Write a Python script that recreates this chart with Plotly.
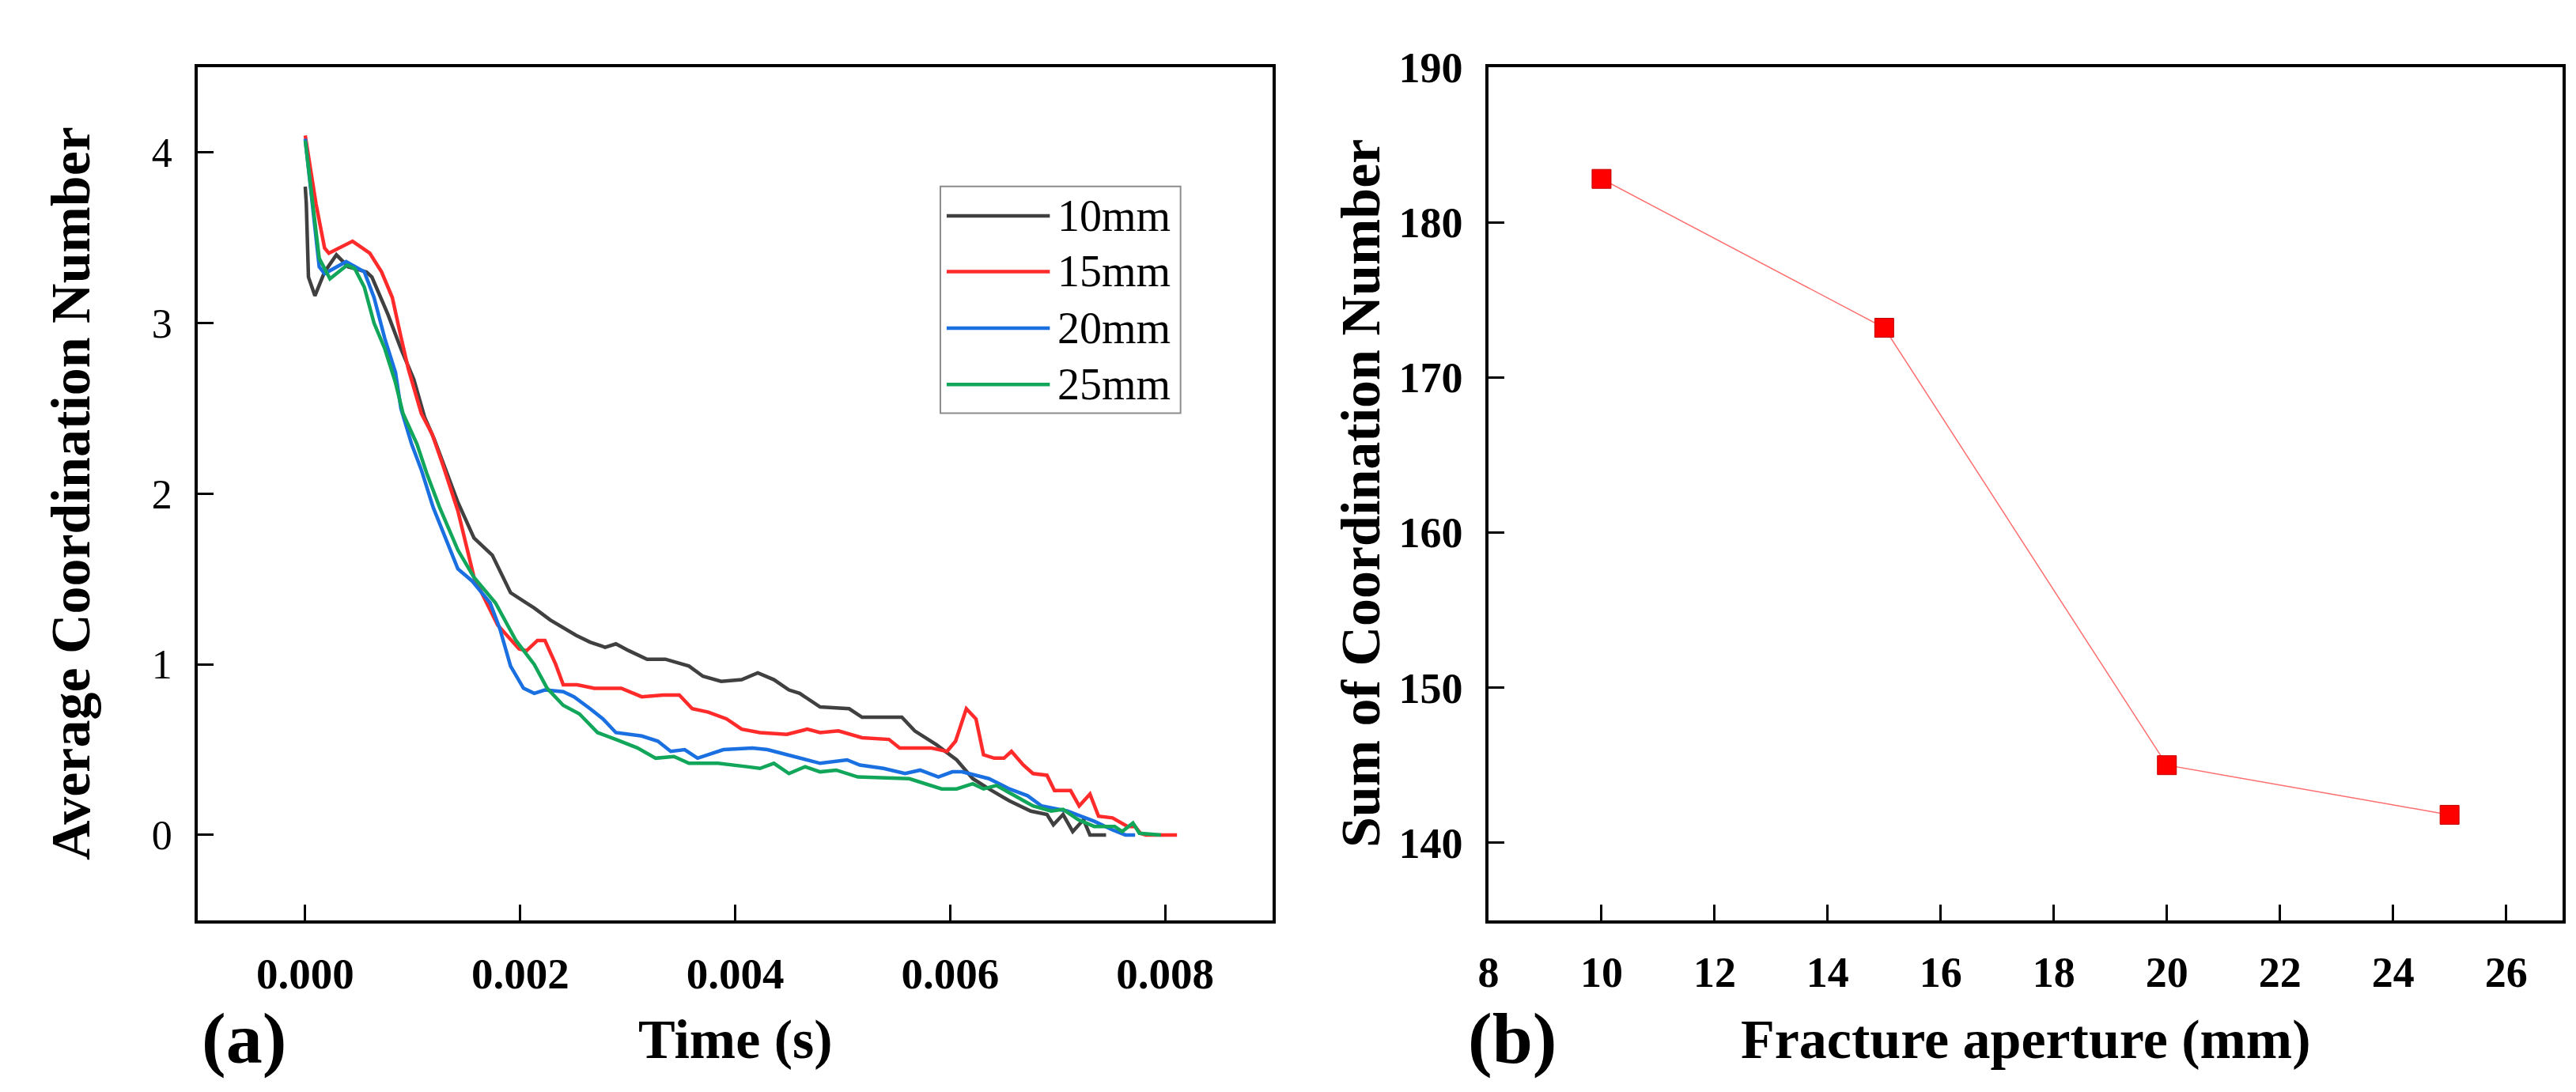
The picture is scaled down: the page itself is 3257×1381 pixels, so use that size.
import plotly.graph_objects as go
from plotly.subplots import make_subplots

# (a) average coordination number vs time, one curve per aperture
series_names = ['10mm', '15mm', '20mm', '25mm']
series_colors = ['#404040', '#FF2B2B', '#1A70E0', '#12A65A']

t_10 = [0.0, 0.00001, 0.00003, 0.00009, 0.00018, 0.00029, 0.00040, 0.00057, 0.00062, 0.00077,
        0.00089, 0.00101, 0.00111, 0.00120, 0.00142, 0.00157, 0.00174, 0.00191, 0.00213, 0.00228,
        0.00252, 0.00265, 0.00279, 0.00289, 0.00301, 0.00318, 0.00335, 0.00345, 0.00357, 0.00370,
        0.00387, 0.00406, 0.00421, 0.00436, 0.00450, 0.00460, 0.00479, 0.00506, 0.00518, 0.00538,
        0.00555, 0.00567, 0.00587, 0.00606, 0.00621, 0.00636, 0.00655, 0.00675, 0.00690, 0.00696,
        0.00705, 0.00714, 0.00724, 0.00730, 0.00745]
cn_10 = [3.80, 3.70, 3.27, 3.16, 3.30, 3.40, 3.33, 3.30, 3.27, 3.05,
         2.85, 2.67, 2.45, 2.32, 1.95, 1.74, 1.64, 1.42, 1.33, 1.26,
         1.17, 1.13, 1.10, 1.12, 1.08, 1.03, 1.03, 1.01, 0.99, 0.93,
         0.90, 0.91, 0.95, 0.91, 0.85, 0.83, 0.75, 0.74, 0.69, 0.69,
         0.69, 0.61, 0.53, 0.44, 0.33, 0.27, 0.20, 0.14, 0.12, 0.06,
         0.12, 0.02, 0.09, 0.00, 0.00]

t_15 = [0.0, 0.00010, 0.00018, 0.00022, 0.00044, 0.00060, 0.00071, 0.00081, 0.00089, 0.00096,
        0.00108, 0.00118, 0.00128, 0.00142, 0.00157, 0.00169, 0.00179, 0.00199, 0.00206, 0.00216,
        0.00223, 0.00233, 0.00240, 0.00253, 0.00269, 0.00294, 0.00313, 0.00333, 0.00348, 0.00360,
        0.00375, 0.00392, 0.00406, 0.00423, 0.00448, 0.00467, 0.00479, 0.00496, 0.00518, 0.00543,
        0.00553, 0.00582, 0.00597, 0.00605, 0.00615, 0.00624, 0.00631, 0.00641, 0.00650, 0.00657,
        0.00668, 0.00677, 0.00690, 0.00697, 0.00712, 0.00720, 0.00730, 0.00738, 0.00751, 0.00765,
        0.00772, 0.00777, 0.00782, 0.00811]
cn_15 = [4.10, 3.70, 3.44, 3.41, 3.48, 3.41, 3.30, 3.15, 2.92, 2.73,
         2.47, 2.35, 2.17, 1.90, 1.51, 1.36, 1.23, 1.09, 1.08, 1.14,
         1.14, 1.00, 0.88, 0.88, 0.86, 0.86, 0.81, 0.82, 0.82, 0.74,
         0.72, 0.68, 0.62, 0.60, 0.59, 0.62, 0.60, 0.61, 0.57, 0.56,
         0.51, 0.51, 0.49, 0.55, 0.74, 0.68, 0.47, 0.45, 0.45, 0.49,
         0.41, 0.36, 0.35, 0.26, 0.26, 0.17, 0.24, 0.11, 0.10, 0.05,
         0.05, 0.01, 0.00, 0.00]

t_20 = [0.0, 0.00006, 0.00013, 0.00018, 0.00038, 0.00055, 0.00064, 0.00074, 0.00084, 0.00089,
        0.00099, 0.00108, 0.00119, 0.00142, 0.00155, 0.00172, 0.00181, 0.00191, 0.00203, 0.00213,
        0.00223, 0.00240, 0.00250, 0.00265, 0.00277, 0.00289, 0.00313, 0.00328, 0.00340, 0.00353,
        0.00365, 0.00389, 0.00416, 0.00430, 0.00455, 0.00479, 0.00504, 0.00516, 0.00538, 0.00558,
        0.00572, 0.00589, 0.00602, 0.00611, 0.00636, 0.00655, 0.00672, 0.00685, 0.00709, 0.00734,
        0.00751, 0.00763, 0.00772]
cn_20 = [4.08, 3.73, 3.33, 3.29, 3.36, 3.30, 3.15, 2.91, 2.71, 2.50,
         2.29, 2.14, 1.92, 1.56, 1.49, 1.36, 1.21, 0.99, 0.86, 0.83,
         0.85, 0.84, 0.81, 0.74, 0.68, 0.60, 0.58, 0.55, 0.49, 0.50,
         0.45, 0.50, 0.51, 0.50, 0.46, 0.42, 0.44, 0.41, 0.39, 0.36,
         0.38, 0.34, 0.37, 0.37, 0.33, 0.27, 0.23, 0.17, 0.14, 0.08,
         0.03, 0.00, 0.00]

t_25 = [0.0, 0.00006, 0.00013, 0.00023, 0.00039, 0.00046, 0.00055, 0.00064, 0.00074, 0.00084,
        0.00091, 0.00104, 0.00113, 0.00125, 0.00142, 0.00157, 0.00177, 0.00196, 0.00213, 0.00225,
        0.00240, 0.00255, 0.00272, 0.00289, 0.00309, 0.00326, 0.00343, 0.00357, 0.00384, 0.00411,
        0.00423, 0.00436, 0.00450, 0.00465, 0.00479, 0.00494, 0.00514, 0.00562, 0.00592, 0.00606,
        0.00621, 0.00631, 0.00643, 0.00660, 0.00677, 0.00694, 0.00705, 0.00719, 0.00734, 0.00753,
        0.00760, 0.00770, 0.00776, 0.00796]
cn_25 = [4.07, 3.73, 3.38, 3.26, 3.34, 3.32, 3.21, 3.00, 2.85, 2.65,
         2.47, 2.29, 2.12, 1.92, 1.67, 1.51, 1.36, 1.14, 1.00, 0.86,
         0.76, 0.71, 0.60, 0.56, 0.51, 0.45, 0.46, 0.42, 0.42, 0.40,
         0.39, 0.42, 0.36, 0.40, 0.37, 0.38, 0.34, 0.33, 0.27, 0.27,
         0.30, 0.27, 0.29, 0.23, 0.17, 0.14, 0.15, 0.09, 0.05, 0.05,
         0.02, 0.07, 0.01, 0.00]

times = [t_10, t_15, t_20, t_25]
values = [cn_10, cn_15, cn_20, cn_25]

# (b) sum of coordination number vs fracture aperture
aperture = [10, 15, 20, 25]
cn_sum = [182.8, 173.2, 145.0, 141.8]

W, H = 3257, 1381
FONT = 'Liberation Serif'


def px_x(p):
    return p / W


def px_y(p):
    return 1 - p / H


fig = make_subplots(rows=1, cols=2)

for name, color, t, y in zip(series_names, series_colors, times, values):
    fig.add_trace(go.Scatter(x=t, y=y, mode='lines', name=name, showlegend=False,
                             line=dict(color=color, width=4.5)), row=1, col=1)

fig.add_trace(go.Scatter(x=aperture, y=cn_sum, mode='lines+markers', showlegend=False,
                         line=dict(color='#FF6E6E', width=1.5),
                         marker=dict(symbol='square', size=24, color='#FF0000',
                                     line=dict(color='#C00000', width=1))),
              row=1, col=2)

axis_common = dict(showline=True, linecolor='black', linewidth=3.5, mirror=True,
                   ticks='inside', ticklen=20, tickwidth=3, tickcolor='black',
                   showgrid=False, zeroline=False)

fig.update_xaxes(axis_common)
fig.update_yaxes(axis_common)

fig.update_layout(
    width=W, height=H,
    margin=dict(l=0, r=0, t=0, b=0),
    plot_bgcolor='white', paper_bgcolor='white',
    font=dict(family=FONT, color='black'),
    xaxis=dict(domain=[px_x(229), px_x(1594)], range=[-0.001, 0.009],
               tick0=0, dtick=0.002, tickformat='.3f', ticklabelstandoff=16,
               tickfont=dict(family=FONT, size=55, weight='bold')),
    yaxis=dict(domain=[px_y(1151), px_y(49)], range=[-0.5, 4.5],
               tick0=0, dtick=1, ticklabelstandoff=18,
               tickfont=dict(family=FONT, size=52)),
    xaxis2=dict(domain=[px_x(1868), px_x(3232)], range=[8, 27],
                tick0=8, dtick=2, ticklabelstandoff=16,
                tickfont=dict(family=FONT, size=54, weight='bold')),
    yaxis2=dict(domain=[px_y(1151), px_y(49)], range=[135, 190.001],
                tick0=140, dtick=10, ticklabelstandoff=18,
                tickfont=dict(family=FONT, size=54, weight='bold')),
)

title_font = dict(family=FONT, size=70, color='black', weight='bold')
label_font = dict(family=FONT, size=92, color='black', weight='bold')
texts = [
    dict(text='Average Coordination Number', x=px_x(68), y=px_y(600), textangle=-90, font=title_font),
    dict(text='Time (s)', x=px_x(912), y=px_y(1305), font=title_font),
    dict(text='Sum of Coordination Number', x=px_x(1706), y=px_y(600), textangle=-90, font=title_font),
    dict(text='Fracture aperture (mm)', x=px_x(2550), y=px_y(1305), font=title_font),
    dict(text='(a)', x=px_x(288), y=px_y(1303), font=label_font),
    dict(text='(b)', x=px_x(1898), y=px_y(1303), font=label_font),
]
for a in texts:
    fig.add_annotation(xref='paper', yref='paper', xanchor='center', yanchor='middle',
                       showarrow=False, **a)

# legend drawn as a boxed key inside panel (a)
fig.add_shape(type='rect', xref='paper', yref='paper',
              x0=px_x(1172), x1=px_x(1477), y0=px_y(496), y1=px_y(203),
              line=dict(color='#8C8C8C', width=2), fillcolor='white', layer='below')
row_y = [241, 313, 386, 459]
for name, color, ry in zip(series_names, series_colors, row_y):
    fig.add_shape(type='line', xref='paper', yref='paper',
                  x0=px_x(1180), x1=px_x(1311), y0=px_y(ry), y1=px_y(ry),
                  line=dict(color=color, width=4.5))
    fig.add_annotation(text=name, xref='paper', yref='paper', x=px_x(1319), y=px_y(ry),
                       xanchor='left', yanchor='middle', showarrow=False,
                       font=dict(family=FONT, size=56, color='black'))

fig.write_html('out.html')
